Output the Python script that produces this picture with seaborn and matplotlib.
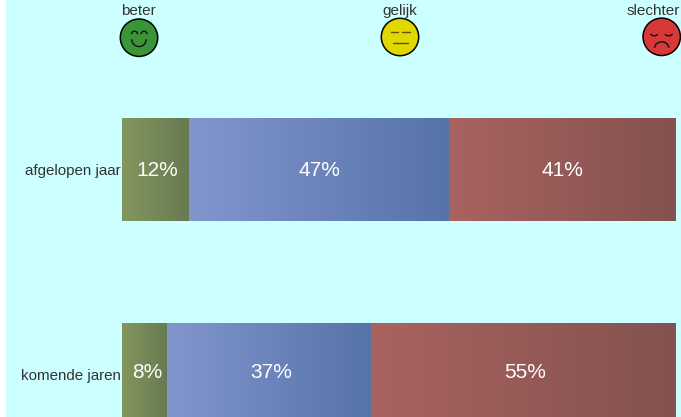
import numpy as np
import pandas as pd
import matplotlib
matplotlib.use("Agg")
import matplotlib.pyplot as plt
import seaborn as sns
from matplotlib.patches import Circle, Arc, Rectangle
from matplotlib.transforms import Affine2D

# data
periods = ["afgelopen jaar", "komende jaren"]
answers = ["beter", "gelijk", "slechter"]
beter = [12.1, 8.1]
gelijk = [46.9, 36.9]
slechter = [40.9, 55]

# gradient per answer, left and right colour
grad_left = ["#84975F", "#8296CE", "#A96360"]
grad_right = ["#677A51", "#5673A9", "#83524F"]
face_colors = ["#3A9438", "#E0D800", "#D93838"]

W, H = 681, 417
BG = "#CCFFFF"
TXT = "#333333"

sns.set_theme(style="white")
plt.rcParams["font.family"] = ["Liberation Sans", "DejaVu Sans"]

df = pd.DataFrame({"period": periods, "beter": beter, "gelijk": gelijk, "slechter": slechter})

fig = plt.figure(figsize=(W / 100, H / 100), dpi=100, facecolor="white")
# pixel transform, y downwards, for the page furniture
px = Affine2D().scale(1, -1).translate(0, H)

fig.add_artist(Rectangle((6, 0), W - 6, H, transform=px, facecolor=BG, edgecolor="none", zorder=-5))

ax = fig.add_axes([122 / W, 0, 554 / W, 350 / H])
ax.patch.set_alpha(0)

# stacked bars
left = np.zeros(len(df))
for i, name in enumerate(answers):
    sns.barplot(data=df, y="period", x=name, left=left, ax=ax, color=grad_left[i],
                width=0.5024, orient="h", linewidth=0)
    left = left + df[name].values

ax.set_xlim(0, 100)
ax.set_ylim(1.2073, -0.5)

# label nudge in pixels, per answer and per row
nudge_x = [[2, 3], [0.5, 2.5], [0.5, 1]]
nudge_y = [-1, 2]

# gradient on top of every bar, clipped to the bar
for j, p in enumerate(ax.patches):
    i = j // len(periods)
    k = j % len(periods)
    cmap = matplotlib.colors.LinearSegmentedColormap.from_list("g", [grad_left[i], grad_right[i]])
    x0, x1 = p.get_x(), p.get_x() + p.get_width()
    y0, y1 = p.get_y(), p.get_y() + p.get_height()
    ax.imshow(np.linspace(0, 1, 256).reshape(1, -1), extent=(x0, x1, y1, y0), cmap=cmap,
              aspect="auto", zorder=3, interpolation="bilinear")
    ax.annotate(f"{int(round(p.get_width()))}%", ((x0 + x1) / 2, (y0 + y1) / 2),
                xytext=(nudge_x[i][k] * 0.72, nudge_y[k] * 0.72), textcoords="offset points",
                color="white", fontsize=15, ha="center", va="center", zorder=4)

ax.set_xlim(0, 100)
ax.set_ylim(1.2073, -0.5)
ax.set_xlabel("")
ax.set_ylabel("")
ax.set_xticks([])
ax.tick_params(axis="y", length=0, pad=1, labelsize=10.9, labelcolor=TXT)
sns.despine(ax=ax, left=True, bottom=True)

# smileys with their labels
face_x = [139, 400, 661.7]
face_y = [37.7, 37, 36.8]
label_x = [138, 400, 653.5]
for i, name in enumerate(answers):
    cx, cy = face_x[i], face_y[i]
    fig.text(label_x[i], 11, name, transform=px, fontsize=11, color=TXT, ha="center", va="center")
    fig.add_artist(Circle((cx, cy), 18.7, transform=px, facecolor=face_colors[i],
                          edgecolor="black", linewidth=1.1))
    lw = 1.0
    if i == 0:
        fig.add_artist(Arc((cx - 4.5, cy - 3.5), 6, 6, theta1=180, theta2=360, transform=px, color="#111111", lw=lw))
        fig.add_artist(Arc((cx + 5, cy - 3.5), 6, 6, theta1=180, theta2=360, transform=px, color="#111111", lw=lw))
        fig.add_artist(Arc((cx, cy + 1.6), 14.5, 14.5, theta1=0, theta2=180, transform=px, color="#111111", lw=lw))
    elif i == 1:
        for x0, x1, y in [(-9, -1.7, -5), (2.3, 10, -5), (-7.3, 7.7, 6.3)]:
            fig.add_artist(plt.Line2D([cx + x0, cx + x1], [cy + y, cy + y], transform=px, color="#5A5500", lw=1.0))
    else:
        fig.add_artist(Arc((cx - 7.5, cy - 3), 6.5, 4, theta1=0, theta2=180, transform=px, color="#111111", lw=lw))
        fig.add_artist(Arc((cx + 7, cy - 3), 7, 4, theta1=0, theta2=180, transform=px, color="#111111", lw=lw))
        fig.add_artist(Arc((cx, cy + 11), 14, 12, theta1=180, theta2=360, transform=px, color="#111111", lw=lw))

fig.savefig("out.png", dpi=100)
